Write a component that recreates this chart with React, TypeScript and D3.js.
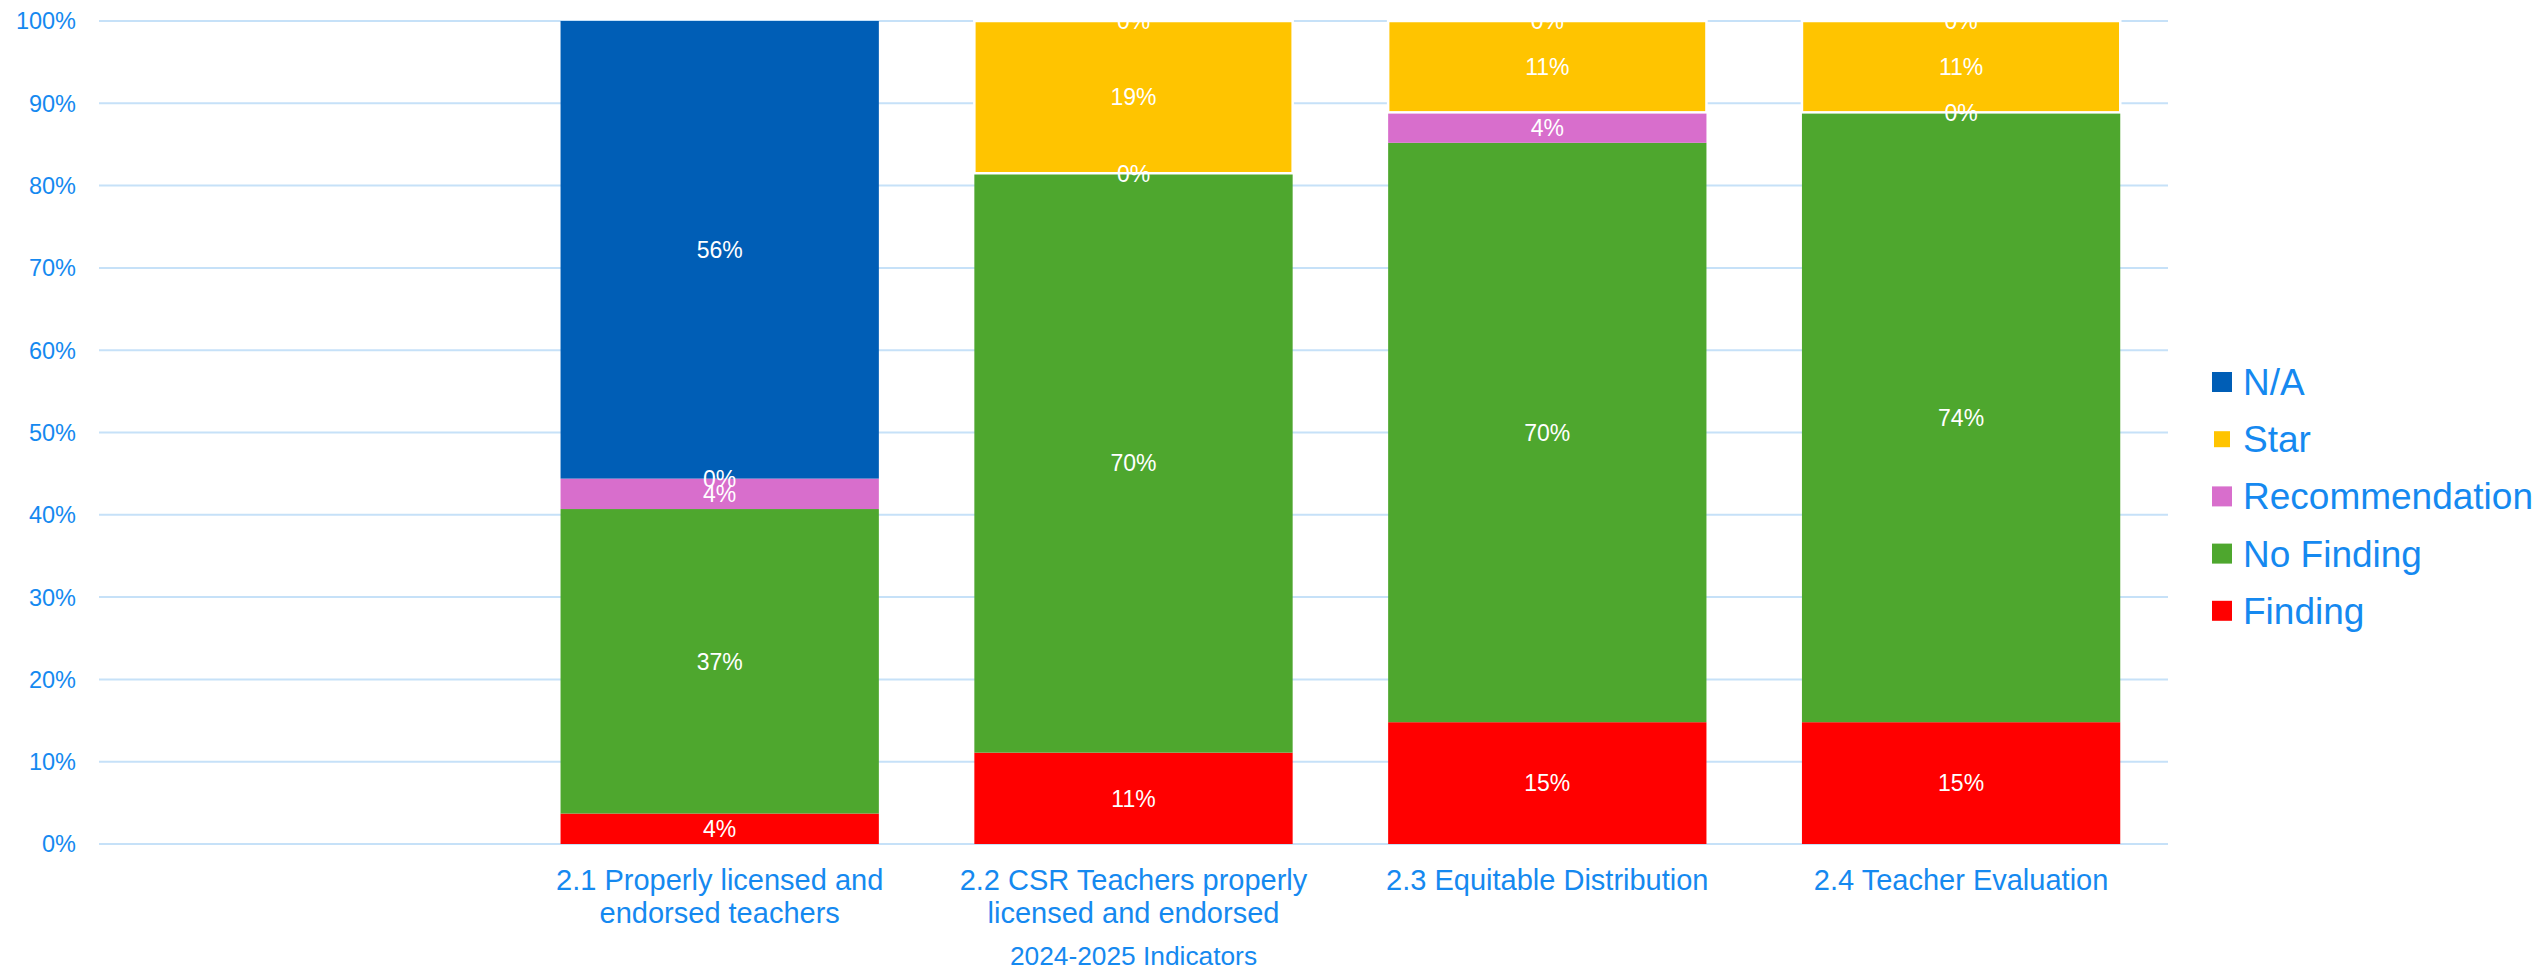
import React from "react";
import * as d3 from "d3";

const categories = [
  "",
  "2.1 Properly licensed and endorsed teachers",
  "2.2 CSR Teachers properly licensed and endorsed",
  "2.3 Equitable Distribution",
  "2.4 Teacher Evaluation",
];
const categoryLines: string[][] = [
  [],
  ["2.1 Properly licensed and", "endorsed teachers"],
  ["2.2 CSR Teachers properly", "licensed and endorsed"],
  ["2.3 Equitable Distribution"],
  ["2.4 Teacher Evaluation"],
];
const seriesNames = ["Finding", "No Finding", "Recommendation", "Star", "N/A"];
const finding = [null, 3.7, 11.1, 14.8, 14.8];
const noFinding = [null, 37.0, 70.4, 70.4, 74.1];
const recommendation = [null, 3.7, 0, 3.7, 0];
const star = [null, 0, 18.5, 11.1, 11.1];
const na = [null, 55.6, 0, 0, 0];
const seriesColors = ["#FF0000", "#4EA72E", "#D86ECC", "#FFC400", "#005EB6"];
const yTicks = [0, 10, 20, 30, 40, 50, 60, 70, 80, 90, 100];
const axisTitle = "2024-2025 Indicators";

const W = 2542;
const H = 970;
const TEXT = "#1589F0";
const GRID = "#C6E1F8";
const FONT = "'Liberation Sans', Arial, sans-serif";

export default function App() {
  const seriesValues = [finding, noFinding, recommendation, star, na];
  const x = d3
    .scaleBand<string>()
    .domain(categories)
    .range([99, 2168])
    .paddingInner(0.3 / 1.3)
    .paddingOuter(0.15 / 1.3);
  const y = d3.scaleLinear().domain([0, 100]).range([844, 21]);

  const rows = categories.map((c, i) => {
    const r: any = { cat: c };
    seriesNames.forEach((s, k) => (r[s] = seriesValues[k][i] ?? 0));
    return r;
  });
  const stack = d3.stack<any>().keys(seriesNames)(rows);

  const legendOrder = [4, 3, 2, 1, 0];

  return (
    <svg
      width={W}
      height={H}
      style={{ position: "absolute", left: 0, top: 0, display: "block", background: "#fff" }}
      fontFamily={FONT}
    >
      {yTicks.map((t) => (
        <g key={t}>
          <line x1={99} x2={2168} y1={y(t)} y2={y(t)} stroke={GRID} strokeWidth={2} />
          <text x={76} y={y(t)} dy="0.36em" textAnchor="end" fontSize={23.5} fill={TEXT}>
            {t}%
          </text>
        </g>
      ))}
      {stack.map((layer, k) =>
        layer.map((d, i) => {
          if (seriesValues[k][i] === null) return null;
          const h = y(d[0]) - y(d[1]);
          if (h <= 0) return null;
          const isStar = seriesNames[k] === "Star";
          return (
            <rect
              key={k + "-" + i}
              x={x(categories[i])!}
              width={x.bandwidth()}
              y={y(d[1])}
              height={h}
              fill={seriesColors[k]}
              stroke={isStar ? "#fff" : "none"}
              strokeWidth={isStar ? 2.5 : 0}
            />
          );
        })
      )}
      {stack.map((layer, k) =>
        layer.map((d, i) => {
          const v = seriesValues[k][i];
          if (v === null) return null;
          return (
            <text
              key={"l" + k + "-" + i}
              x={x(categories[i])! + x.bandwidth() / 2}
              y={(y(d[0]) + y(d[1])) / 2}
              dy="0.36em"
              textAnchor="middle"
              fontSize={23}
              fill="#fff"
            >
              {Math.round(v)}%
            </text>
          );
        })
      )}
      {categoryLines.map((lines, i) =>
        lines.map((ln, j) => (
          <text
            key={"c" + i + "-" + j}
            x={x(categories[i])! + x.bandwidth() / 2}
            y={890 + j * 33}
            textAnchor="middle"
            fontSize={29}
            fill={TEXT}
          >
            {ln}
          </text>
        ))
      )}
      <text x={(99 + 2168) / 2} y={965} textAnchor="middle" fontSize={26.3} fill={TEXT}>
        {axisTitle}
      </text>
      {legendOrder.map((k, j) => {
        const cy = 382 + j * 57.2;
        const isStar = seriesNames[k] === "Star";
        return (
          <g key={"lg" + k}>
            <rect
              x={2212}
              y={cy - 10}
              width={20}
              height={20}
              fill={seriesColors[k]}
              stroke={isStar ? "#fff" : "none"}
              strokeWidth={isStar ? 4 : 0}
            />
            <text x={2243} y={cy} dy="0.35em" fontSize={37} fill={TEXT}>
              {seriesNames[k]}
            </text>
          </g>
        );
      })}
    </svg>
  );
}
